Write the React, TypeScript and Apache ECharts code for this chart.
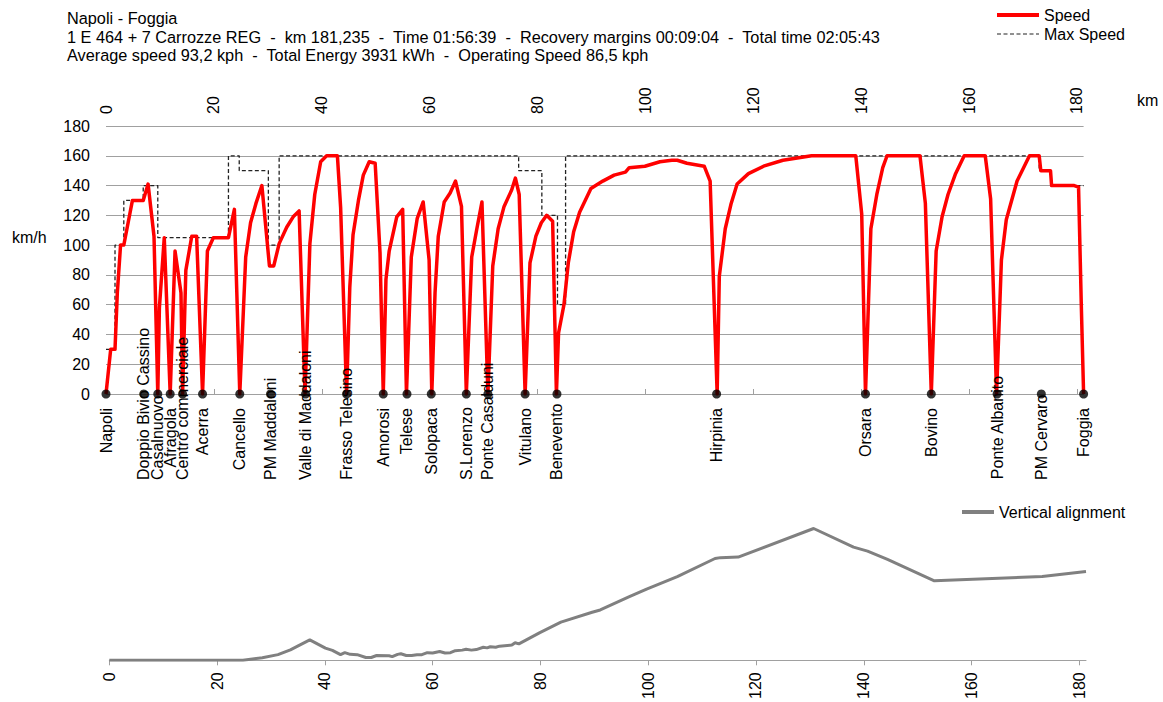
import React, { useEffect, useRef } from "react";
import * as echarts from "echarts";

const FONT = '"Liberation Sans", Arial, Helvetica, sans-serif';
const ROUTE_KM = 181.235;

const titleLines = [
  "Napoli - Foggia",
  "1 E 464 + 7 Carrozze REG  -  km 181,235  -  Time 01:56:39  -  Recovery margins 00:09:04  -  Total time 02:05:43",
  "Average speed 93,2 kph  -  Total Energy 3931 kWh  -  Operating Speed 86,5 kph",
];

const kmTicks = [0, 20, 40, 60, 80, 100, 120, 140, 160, 180];

const stationNames = [
  "Napoli", "Doppio Bivio Cassino", "Casalnuovo", "Afragola", "Centro commerciale",
  "Acerra", "Cancello", "PM Maddaloni", "Valle di Maddaloni", "Frasso Telesino",
  "Amorosi", "Telese", "Solopaca", "S.Lorenzo", "Ponte Casalduni", "Vitulano",
  "Benevento", "Hirpinia", "Orsara", "Bovino", "Ponte Albanito", "PM Cervaro", "Foggia",
];
const stationKm = [
  0, 7.0, 9.6, 11.9, 14.2, 17.9, 24.8, 30.5, 37.0, 44.6, 51.4, 55.8, 60.3,
  66.8, 70.8, 77.7, 83.6, 113.2, 140.8, 153.0, 165.2, 173.4, ROUTE_KM,
];

// speed limit: [km where the limit starts, km/h]
const maxSpeed: [number, number][] = [
  [0, 30], [1.67, 100], [3.3, 130], [6.9, 140], [9.6, 105], [22.7, 160],
  [24.7, 150], [30.1, 100], [32.1, 160], [76.5, 150], [80.8, 120], [83.7, 60],
  [85.2, 160], [173.0, 150], [175.2, 140], [ROUTE_KM, 140],
];

// running speed: [km, km/h]
const speed: [number, number][] = [
  [0, 0], [0.87, 30], [1.67, 30], [2.1, 68], [2.7, 100], [3.3, 100], [4.1, 115],
  [4.9, 130], [6.9, 130], [7.8, 141], [8.9, 106], [9.6, 0], [9.9, 58], [10.8, 105],
  [11.9, 0], [12.8, 96], [13.9, 68], [14.2, 0], [14.8, 83], [15.9, 106], [16.8, 106],
  [17.9, 0], [18.8, 96], [19.9, 105], [22.7, 105], [23.8, 124], [24.8, 0], [25.9, 92],
  [26.8, 115], [27.8, 128], [28.9, 140], [30.3, 86], [31.1, 86], [32.1, 101],
  [33.5, 112], [34.7, 119], [35.8, 123], [36.9, 0], [37.8, 101], [38.7, 134],
  [39.8, 156], [40.9, 160], [42.9, 160], [43.5, 125], [44.6, 0], [45.2, 72],
  [45.8, 107], [46.8, 130], [47.7, 147], [48.8, 156], [49.9, 155], [50.8, 95],
  [51.4, 0], [51.9, 77], [52.5, 96], [53.9, 119], [55.0, 124], [55.7, 0], [56.6, 92],
  [57.7, 118], [58.8, 129], [59.9, 90], [60.4, 0], [61.0, 68], [61.6, 106],
  [62.7, 129], [63.8, 135], [64.8, 143], [65.9, 126], [66.8, 0], [67.8, 92],
  [68.7, 110], [69.7, 129], [70.8, 0], [71.7, 86], [72.7, 111], [73.8, 126],
  [75.2, 137], [75.9, 145], [76.6, 134], [77.7, 0], [78.6, 88], [79.7, 106],
  [80.7, 115], [81.7, 120], [82.8, 116], [83.5, 0], [83.9, 41], [84.9, 60],
  [85.7, 88], [86.7, 109], [87.8, 122], [89.9, 138], [92.1, 143], [94.2, 147],
  [96.3, 149], [97.0, 152], [99.9, 153], [102.7, 156], [104.9, 157], [105.9, 157],
  [107.7, 155], [110.9, 153], [112.0, 143], [113.3, 0], [113.7, 79], [114.8, 111],
  [115.9, 128], [117.0, 141], [119.1, 148], [121.9, 153], [125.5, 157], [130.8, 160],
  [139.0, 160], [140.1, 121], [140.8, 0], [141.8, 111], [142.9, 134], [144.0, 152],
  [144.8, 160], [150.9, 160], [151.9, 128], [153.0, 0], [153.9, 96], [155.0, 119],
  [156.1, 134], [157.5, 148], [159.1, 160], [163.0, 160], [164.0, 131], [165.1, 0],
  [166.0, 90], [166.9, 117], [168.9, 143], [171.2, 160], [173.0, 160], [173.3, 150],
  [175.1, 150], [175.3, 140], [179.5, 140], [180.3, 139], [180.8, 61], [ROUTE_KM, 0],
];

// track elevation: [km, m]
const elevation: [number, number][] = [
  [0, 0], [24.8, 0], [28.4, 9], [31.3, 20], [33.6, 37], [37.2, 72], [40.1, 43],
  [41.4, 35], [42.9, 20], [43.7, 27], [44.7, 21], [46.0, 20], [47.6, 10], [48.6, 10],
  [49.6, 17], [51.9, 16], [52.5, 13], [53.5, 21], [54.1, 23], [55.1, 17], [56.1, 17],
  [57.1, 20], [58.0, 20], [59.0, 27], [60.0, 26], [61.3, 31], [62.3, 26], [63.3, 27],
  [64.2, 34], [65.5, 36], [66.2, 39], [67.2, 36], [68.1, 38], [69.4, 46], [70.1, 44],
  [70.7, 48], [71.7, 46], [72.4, 50], [74.7, 54], [75.3, 62], [76.0, 58], [79.9, 98],
  [83.8, 135], [89.6, 170], [91.1, 178], [96.4, 224], [99.7, 252], [105.4, 296],
  [112.4, 360], [113.4, 363], [116.7, 365], [130.7, 466], [138.1, 400], [140.7, 386],
  [144.4, 357], [153.1, 281], [173.1, 296], [ROUTE_KM, 314],
];

const textStyle = { fontFamily: FONT, fontSize: 16, color: "#000" };
const GRID_GREY = "#a0a0a0";
const SPEED_RED = "#ff0000";
const LIMIT_DARK = "#222";
const PROFILE_GREY = "#808080";

export default function App() {
  const ref = useRef<HTMLDivElement>(null);

  useEffect(() => {
    if (!ref.current) return;
    const chart = echarts.init(ref.current, undefined, { renderer: "svg" });

    chart.setOption({
      animation: false,
      textStyle: { fontFamily: FONT },
      title: {
        text: titleLines.join("\n"),
        left: 67,
        top: 9,
        padding: 0,
        textStyle: { ...textStyle, fontSize: 16.3, fontWeight: "normal", lineHeight: 18.5 },
      },
      legend: [
        {
          data: [
            { name: "Speed", lineStyle: { color: SPEED_RED, width: 4 } },
            { name: "Max Speed", lineStyle: { color: LIMIT_DARK, width: 1.2, type: [4, 2.5] } },
          ],
          orient: "vertical",
          left: 995,
          top: 7,
          padding: 0,
          itemWidth: 42,
          itemHeight: 14,
          itemGap: 3,
          itemStyle: { opacity: 0 },
          textStyle,
        },
        {
          data: [{ name: "Vertical alignment", lineStyle: { color: PROFILE_GREY, width: 4 } }],
          left: 960,
          top: 504,
          padding: 0,
          itemWidth: 32,
          itemHeight: 14,
          itemStyle: { opacity: 0 },
          textStyle,
        },
      ],
      grid: [
        { left: 106, top: 126, width: 977.6, height: 268 },
        { left: 109.3, top: 490.6, width: 976.7, height: 173.4 },
      ],
      xAxis: [
        {
          type: "value",
          gridIndex: 0,
          position: "top",
          min: 0,
          max: ROUTE_KM,
          axisLine: { show: true, lineStyle: { color: GRID_GREY } },
          axisTick: { show: true, length: 5, customValues: kmTicks, lineStyle: { color: GRID_GREY } },
          axisLabel: { rotate: 90, margin: 12, customValues: kmTicks, ...textStyle },
          splitLine: { show: false },
        },
        {
          type: "value",
          gridIndex: 1,
          position: "bottom",
          min: 0,
          max: ROUTE_KM,
          axisLine: { show: true, lineStyle: { color: GRID_GREY } },
          axisTick: { show: true, length: 5, customValues: kmTicks, lineStyle: { color: GRID_GREY } },
          axisLabel: { rotate: 90, margin: 12, customValues: kmTicks, ...textStyle },
          splitLine: { show: false },
        },
      ],
      yAxis: [
        {
          type: "value",
          gridIndex: 0,
          min: 0,
          max: 180,
          interval: 20,
          axisLine: { show: false },
          axisTick: { show: false },
          axisLabel: { margin: 16, ...textStyle },
          splitLine: { show: true, lineStyle: { color: GRID_GREY, width: 1 } },
        },
        { type: "value", gridIndex: 1, min: 0, max: 600, show: false, splitLine: { show: false } },
      ],
      series: [
        {
          name: "Max Speed",
          type: "line",
          xAxisIndex: 0,
          yAxisIndex: 0,
          step: "end",
          data: maxSpeed,
          symbol: "none",
          lineStyle: { color: LIMIT_DARK, width: 1.3, type: [4, 2.5] },
          itemStyle: { color: LIMIT_DARK },
          z: 2,
        },
        {
          name: "Speed",
          type: "line",
          xAxisIndex: 0,
          yAxisIndex: 0,
          data: speed,
          symbol: "none",
          lineStyle: { color: SPEED_RED, width: 3.5, join: "round" },
          itemStyle: { color: SPEED_RED },
          z: 3,
        },
        {
          name: "Stations",
          type: "scatter",
          xAxisIndex: 0,
          yAxisIndex: 0,
          data: stationKm.map((km) => [km, 0]),
          symbol: "circle",
          symbolSize: 9,
          itemStyle: { color: "#000" },
          z: 5,
        },
        {
          name: "Vertical alignment",
          type: "line",
          xAxisIndex: 1,
          yAxisIndex: 1,
          data: elevation,
          symbol: "none",
          lineStyle: { color: PROFILE_GREY, width: 3 },
          itemStyle: { color: PROFILE_GREY },
          z: 3,
        },
      ],
    });

    // station names, written upwards under each station marker; long names are
    // pushed up so that they end at the same bottom line
    const font = `16px ${FONT}`;
    const ctx = document.createElement("canvas").getContext("2d");
    if (ctx) ctx.font = font;
    const measure = (s: string) => (ctx ? ctx.measureText(s).width : s.length * 8);

    const stationLabels = stationNames.map((name, i) => {
      const [px, py] = chart.convertToPixel({ xAxisIndex: 0, yAxisIndex: 0 }, [stationKm[i], 0]);
      const w = measure(name);
      const limit = py + 86;
      let top = py + 14;
      if (top + w > limit) top = limit - w;
      return {
        type: "text",
        x: px,
        y: top,
        rotation: Math.PI / 2,
        z: 10,
        style: { text: name, font, fill: "#000", align: "right", verticalAlign: "middle" },
      };
    });

    chart.setOption({
      graphic: [
        { type: "text", left: 12, top: 229, style: { text: "km/h", font, fill: "#000" } },
        { type: "text", left: 1137, top: 92, style: { text: "km", font, fill: "#000" } },
        ...stationLabels,
      ],
    });

    return () => chart.dispose();
  }, []);

  return (
    <div
      ref={ref}
      style={{ position: "fixed", left: 0, top: 0, width: 1163, height: 702, background: "#fff" }}
    />
  );
}
